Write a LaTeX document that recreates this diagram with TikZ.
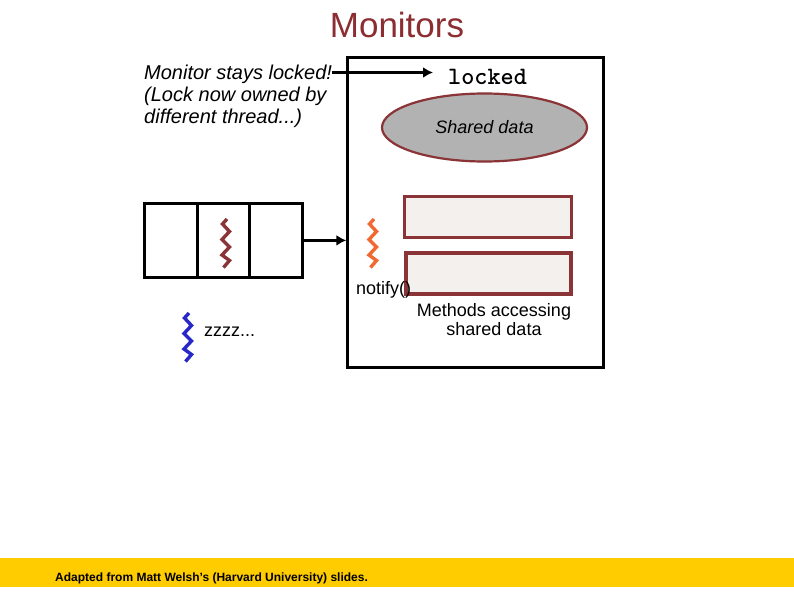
\documentclass[tikz,border=0pt]{standalone}
\usepackage{fontspec}
\setmainfont{Liberation Sans}
\usetikzlibrary{shapes.geometric,arrows.meta}
\definecolor{brick}{RGB}{139,52,56}
\definecolor{titlered}{RGB}{140,45,50}
\definecolor{fillgray}{RGB}{178,178,178}
\definecolor{methfill}{RGB}{244,240,238}
\definecolor{band}{RGB}{255,204,0}
\definecolor{orangeth}{RGB}{240,105,50}
\definecolor{blueth}{RGB}{40,40,200}
\tikzset{
  lbl/.style={inner sep=0pt,align=left,anchor=north west,font=\fontsize{20}{21.7}\selectfont\itshape},
  plain/.style={inner sep=0pt,font=\fontsize{18}{18.5}\selectfont},
  cell/.style={draw=black,line width=2.2pt,minimum height=74pt,inner sep=0pt,anchor=north west},
  meth/.style={draw=brick,fill=methfill,line width=3.4pt,anchor=north west,inner sep=0pt},
  arr/.style={line width=3pt,-{Latex[length=10pt,width=11pt]}},
  squig/.style={line width=3.4pt,line join=miter,line cap=butt}
}
\newcommand{\thr}[3]{\draw[squig,draw=#3,shift={(#1,#2)}] (1,0) -- (-3.5,5) -- (3.5,12.5) -- (-4,20.5) -- (3.5,28) -- (-4,36) -- (3.5,41.5) -- (-2.5,48.5);}
\begin{document}
\begin{tikzpicture}[x=1pt,y=-1pt]
\useasboundingbox (0,0) rectangle (794,595);
\fill[white] (0,0) rectangle (794,595);
\fill[band] (0,558) rectangle (794,587);
\node[inner sep=0pt,text=titlered,font=\fontsize{35}{40}\selectfont] (title) at (397,25) {Monitors};
\node[draw=black,line width=2.2pt,minimum width=256pt,minimum height=310pt,anchor=north west,inner sep=0pt] (mon) at (346.3,56.3) {};
\node[lbl] (msg) at (144,65) {Monitor stays locked!\\(Lock now owned by\\different thread...)};
\node[inner sep=0pt,font=\bfseries\fontsize{25}{27}\ttfamily] (lock) at (487.5,77) {locked};
\coordinate (from) at (332,72.5);
\draw[arr] (from) -- (433,72.5);
\node[ellipse,draw=brick,fill=fillgray,line width=2.2pt,minimum width=205pt,minimum height=68pt,inner sep=0pt,font=\fontsize{18}{20}\selectfont\itshape] (data) at (484.5,127.5) {Shared data};
\node[meth,minimum width=167pt,minimum height=41pt] (m1) at (402.8,194.8) {};
\node[meth,minimum width=165pt,minimum height=41pt] (m2) at (404.3,251.3) {};
\node[cell,minimum width=53pt] (c1) at (143.3,202.3) {};
\node[cell,minimum width=52pt] (c2) at (196.3,202.3) {};
\node[cell,minimum width=53pt] (c3) at (248.3,202.3) {};
\draw[arr] (c3.east) -- (mon.west |- c3.east);
\thr{226}{219}{brick}
\thr{373}{219}{orangeth}
\thr{188}{313}{blueth}
\node[plain,anchor=west] (notify) at (356,290) {notify()};
\node[plain,anchor=west] (zzz) at (204,332) {zzzz...};
\node[plain,align=center] (mtxt) at (494,319.5) {Methods accessing\\shared data};
\node[inner sep=0pt,anchor=west,font=\fontsize{12}{14}\selectfont\bfseries] (cred) at (55,578) {Adapted from Matt Welsh’s (Harvard University) slides.};
\end{tikzpicture}
\end{document}
